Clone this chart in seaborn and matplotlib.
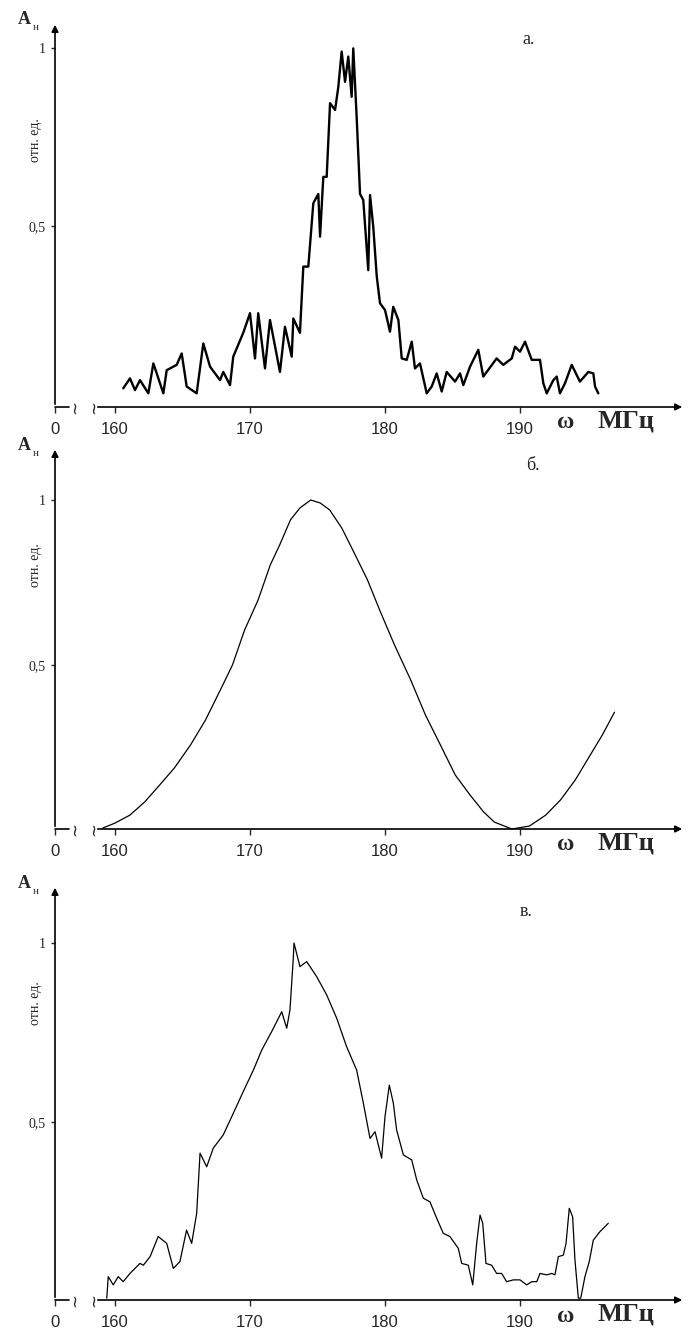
import matplotlib
matplotlib.use("Agg")
import matplotlib.pyplot as plt
import seaborn as sns
import pandas as pd

sns.set_style("white")
plt.rcParams['font.family'] = ['Liberation Serif', 'DejaVu Serif']

# панель а: зашумлённый спектр
freq_a = [160.61, 161.11, 161.48, 161.85, 162.47, 162.84, 163.09, 163.58, 163.83, 164.57,
          164.94, 165.31, 166.05, 166.54, 167.04, 167.78, 168.02, 168.52, 168.76, 169.50,
          170.00, 170.37, 170.61, 171.11, 171.48, 172.22, 172.59, 173.09, 173.21, 173.70,
          173.95, 174.32, 174.69, 175.06, 175.19, 175.43, 175.68, 175.93, 176.30, 176.54,
          176.79, 177.04, 177.28, 177.53, 177.65, 177.90, 178.15, 178.39, 178.76, 178.89,
          179.13, 179.39, 179.63, 180.00, 180.37, 180.61, 180.99, 181.24, 181.61, 181.98,
          182.22, 182.59, 183.09, 183.46, 183.83, 184.20, 184.57, 185.19, 185.56, 185.80,
          186.30, 186.91, 187.28, 188.27, 188.76, 189.39, 189.63, 190.00, 190.37, 190.87,
          191.48, 191.73, 191.98, 192.47, 192.72, 192.96, 193.33, 193.83, 194.44, 195.06,
          195.43, 195.56, 195.80]
amp_a = [0.044, 0.072, 0.039, 0.067, 0.030, 0.114, 0.086, 0.030, 0.095, 0.110,
         0.142, 0.049, 0.030, 0.170, 0.105, 0.067, 0.090, 0.053, 0.133, 0.200,
         0.255, 0.128, 0.255, 0.100, 0.236, 0.090, 0.217, 0.133, 0.240, 0.200,
         0.386, 0.386, 0.564, 0.590, 0.470, 0.638, 0.638, 0.845, 0.826, 0.890,
         0.990, 0.905, 0.976, 0.863, 0.999, 0.807, 0.590, 0.573, 0.376, 0.587,
         0.498, 0.358, 0.283, 0.264, 0.203, 0.273, 0.236, 0.128, 0.124, 0.175,
         0.100, 0.114, 0.030, 0.049, 0.086, 0.035, 0.090, 0.063, 0.086, 0.053,
         0.105, 0.152, 0.077, 0.128, 0.110, 0.128, 0.161, 0.147, 0.175, 0.124,
         0.124, 0.058, 0.030, 0.067, 0.077, 0.030, 0.058, 0.110, 0.063, 0.090,
         0.086, 0.049, 0.030]

# панель б: гладкая кривая
freq_b = [159.1, 160.0, 161.1, 162.2, 163.3, 164.4, 165.6, 166.7, 167.8, 168.7,
          169.6, 170.6, 171.5, 172.2, 173.0, 173.7, 174.5, 175.2, 175.9, 176.8,
          177.8, 178.7, 179.6, 180.7, 181.9, 183.0, 184.1, 185.2, 186.3, 187.3,
          188.1, 189.4, 190.7, 191.9, 193.0, 194.1, 195.2, 196.1, 197.0]
amp_b = [0.006, 0.021, 0.045, 0.085, 0.136, 0.188, 0.258, 0.333, 0.424, 0.500,
         0.606, 0.697, 0.803, 0.864, 0.940, 0.976, 1.000, 0.991, 0.970, 0.915,
         0.833, 0.758, 0.667, 0.561, 0.455, 0.348, 0.258, 0.167, 0.106, 0.055,
         0.024, 0.003, 0.012, 0.045, 0.091, 0.152, 0.227, 0.288, 0.357]

# панель в
freq_c = [159.39, 159.50, 159.87, 160.24, 160.61, 161.11, 161.85, 162.10, 162.60, 163.20,
          163.83, 164.32, 164.81, 165.30, 165.68, 166.05, 166.30, 166.79, 167.28, 168.02,
          168.76, 169.50, 170.25, 170.87, 171.60, 172.35, 172.72, 172.96, 173.20, 173.26,
          173.70, 174.20, 174.94, 175.68, 176.42, 177.16, 177.90, 178.40, 178.89, 179.26,
          179.75, 180.00, 180.32, 180.62, 180.86, 181.36, 181.98, 182.35, 182.84, 183.33,
          183.83, 184.32, 184.81, 185.43, 185.68, 186.17, 186.50, 186.79, 187.04, 187.24,
          187.48, 187.90, 188.27, 188.64, 189.01, 189.50, 190.00, 190.50, 190.87, 191.24,
          191.48, 191.98, 192.35, 192.59, 192.84, 193.21, 193.41, 193.65, 193.90, 194.07,
          194.32, 194.50, 194.81, 195.13, 195.43, 195.93, 196.54]
amp_c = [0.008, 0.068, 0.045, 0.068, 0.054, 0.077, 0.105, 0.100, 0.124, 0.180,
         0.161, 0.091, 0.110, 0.198, 0.161, 0.245, 0.413, 0.375, 0.427, 0.464,
         0.524, 0.585, 0.645, 0.701, 0.752, 0.808, 0.762, 0.813, 0.953, 1.000,
         0.934, 0.948, 0.906, 0.855, 0.790, 0.710, 0.645, 0.552, 0.454, 0.473,
         0.399, 0.515, 0.603, 0.552, 0.478, 0.408, 0.394, 0.338, 0.287, 0.277,
         0.231, 0.189, 0.180, 0.147, 0.105, 0.100, 0.045, 0.161, 0.240, 0.217,
         0.105, 0.100, 0.077, 0.077, 0.054, 0.059, 0.059, 0.045, 0.054, 0.054,
         0.077, 0.073, 0.077, 0.073, 0.124, 0.128, 0.161, 0.259, 0.235, 0.115,
         0.008, 0.008, 0.068, 0.110, 0.170, 0.194, 0.217]

x_ticks = [160, 170, 180, 190]
x_labels = ['160', '170', '180', '190']
y_ticks = [0.5, 1.0]
y_labels = ['0,5', '1']
panel_names = ['а.', 'б.', 'в.']

W, H = 698, 1334
fig = plt.figure(figsize=(W / 100, H / 100), dpi=100)

px_per_mhz = 13.5
x_left = 160 - 60 / px_per_mhz     # ось ординат (x = 55 px)
x_right = 160 + 570 / px_per_mhz   # конец стрелки (x = 685 px)

# пиксельная геометрия: (низ оси, верх стрелки, пиксель нуля, пикселей на единицу)
panels = [
    (407, 22, 404, 356, freq_a, amp_a, 1.7, (522, 40)),
    (829, 447, 830, 330, freq_b, amp_b, 0.9, (526, 465)),
    (1300, 885, 1301, 358, freq_c, amp_c, 0.9, (520, 912)),
]


def fx(x):
    return x / W


def fy(y):
    return 1 - y / H


for i, (y_bot, y_top, y0, ppu, fr, am, lw, letter_pos) in enumerate(panels):
    ax = fig.add_axes([fx(55), fy(y_bot), 630 / W, (y_bot - y_top) / H])
    df = pd.DataFrame({'f': fr, 'A': am})
    sns.lineplot(data=df, x='f', y='A', ax=ax, color='black', linewidth=lw,
                 sort=False, estimator=None)
    ax.set_xlim(x_left, x_right)
    ax.set_ylim((y0 - y_bot) / ppu, (y0 - y_top) / ppu)
    for s in ax.spines.values():
        s.set_visible(False)
    ax.set_xlabel('')
    ax.set_ylabel('')

    ax.set_xticks([x_left] + x_ticks)
    ax.set_xticklabels(['0'] + x_labels, family=['Liberation Sans', 'DejaVu Sans'], fontsize=12)
    ax.set_yticks(y_ticks)
    ax.set_yticklabels(y_labels, fontsize=10)
    ax.tick_params(axis='x', direction='out', length=4, width=1, pad=7, bottom=True)
    ax.tick_params(axis='y', direction='out', length=3, width=1, pad=4, left=True)

    tr = ax.get_xaxis_transform()
    # ось абсцисс с разрывом
    ax.plot([x_left, 160 - 46 / px_per_mhz], [0, 0], color='black', lw=1.2,
            transform=tr, clip_on=False)
    ax.annotate('', xy=(x_right, 0), xytext=(160 - 20 / px_per_mhz, 0),
                xycoords=tr, textcoords=tr,
                arrowprops=dict(arrowstyle='-|>', color='black', lw=1.2, mutation_scale=10))
    for bx in [160 - 40 / px_per_mhz, 160 - 21 / px_per_mhz]:
        ax.text(bx, 0, '~', rotation=90, transform=tr, ha='center', va='center',
                fontsize=12, family='DejaVu Sans')
    # ось ординат
    ax.annotate('', xy=(0, 1), xytext=(0, 0), xycoords='axes fraction',
                arrowprops=dict(arrowstyle='-|>', color='black', lw=1.2, mutation_scale=10))

    # подписи
    fig.text(fx(18), fy(y_top - 2), 'A', fontsize=13, fontweight='bold',
             ha='left', va='center')
    fig.text(fx(33), fy(y_top + 6), 'н', fontsize=8, ha='left', va='center')
    fig.text(fx(35), fy(y_top + 118), 'отн. ед.', fontsize=10, rotation=90,
             ha='center', va='center')
    fig.text(fx(letter_pos[0]), fy(letter_pos[1]), panel_names[i], fontsize=13,
             ha='left', va='center')
    fig.text(fx(557), fy(y_bot + 16), 'ω', fontsize=17, fontweight='bold',
             ha='left', va='center')
    fig.text(fx(598), fy(y_bot + 14), 'МГц', fontsize=19, fontweight='bold',
             ha='left', va='center')

fig.savefig('out.png', dpi=100)
